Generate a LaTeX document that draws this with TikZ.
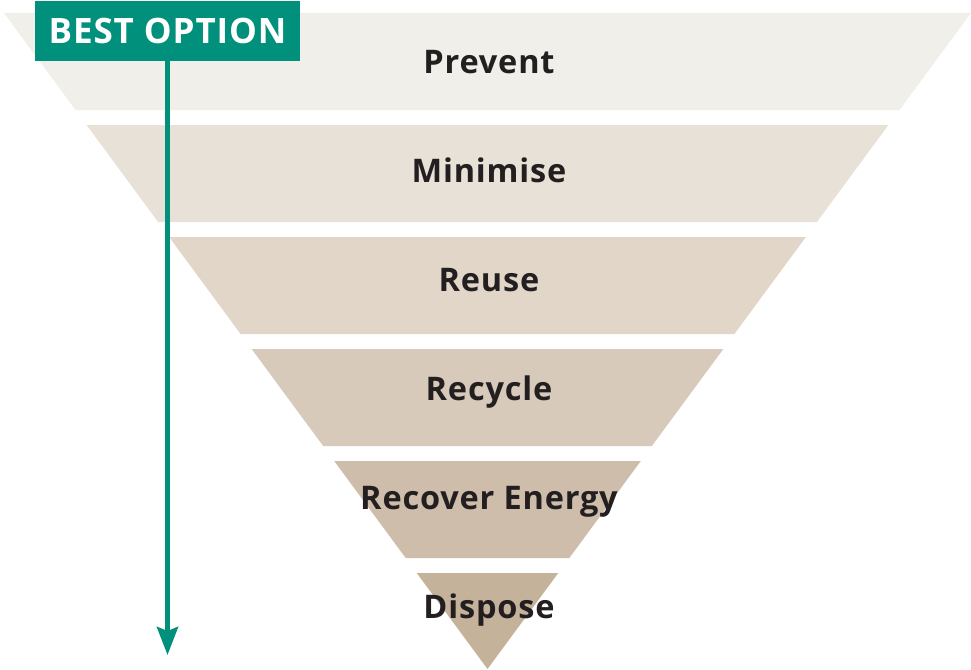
\documentclass[tikz,border=0pt]{standalone}
\usepackage{fontspec}
\setmainfont{Open Sans}[LetterSpace=2.5]
\usetikzlibrary{arrows.meta}
\definecolor{teal}{HTML}{00907C}
\definecolor{txt}{HTML}{231F20}
\definecolor{bA}{HTML}{F0EFEA}
\definecolor{bB}{HTML}{E8E1D7}
\definecolor{bC}{HTML}{E1D6C8}
\definecolor{bD}{HTML}{D8CABA}
\definecolor{bE}{HTML}{CEBDAA}
\definecolor{bF}{HTML}{C5B29A}
\tikzset{
  lbl/.style={anchor=base, text=txt, font=\fontsize{32.5}{36}\selectfont\bfseries, inner sep=0pt},
}
\begin{document}
\begin{tikzpicture}[x=1pt,y=-1pt]
\useasboundingbox (0,0) rectangle (971,669);
% half width w(y) = 0.7370*(669-y), centre 487.5
\def\cx{487.5}
\def\k{0.7370}
\foreach \t/\b/\c in {13/110/bA,125/222/bB,237/334/bC,349/446/bD,461/558/bE,573/669/bF}{
  \pgfmathsetmacro\wt{\k*(669-\t)}
  \pgfmathsetmacro\wb{\k*(669-\b)}
  \fill[\c] (\cx-\wt,\t) -- (\cx+\wt,\t) -- (\cx+\wb,\b) -- (\cx-\wb,\b) -- cycle;
}
\node[lbl] (prevent) at (489,73.5) {Prevent};
\node[lbl] (minimise) at (489,182.5) {Minimise};
\node[lbl] (reuse) at (489,291.5) {Reuse};
\node[lbl] (recycle) at (489,400.5) {Recycle};
\node[lbl] (recover) at (489,509.5) {Recover Energy};
\node[lbl] (dispose) at (489,618.5) {Dispose};
\node[fill=teal, text=white, minimum width=265pt, minimum height=60pt, inner sep=0pt,
      font=\fontsize{35}{38}\selectfont\bfseries] (best) at (167.5,31) {BEST OPTION};
\coordinate (tip) at (167.5,655);
\draw[teal, line width=5pt, -{Stealth[length=28pt,width=21pt,inset=4pt]}] (best.south) -- (tip);
\end{tikzpicture}
\end{document}
